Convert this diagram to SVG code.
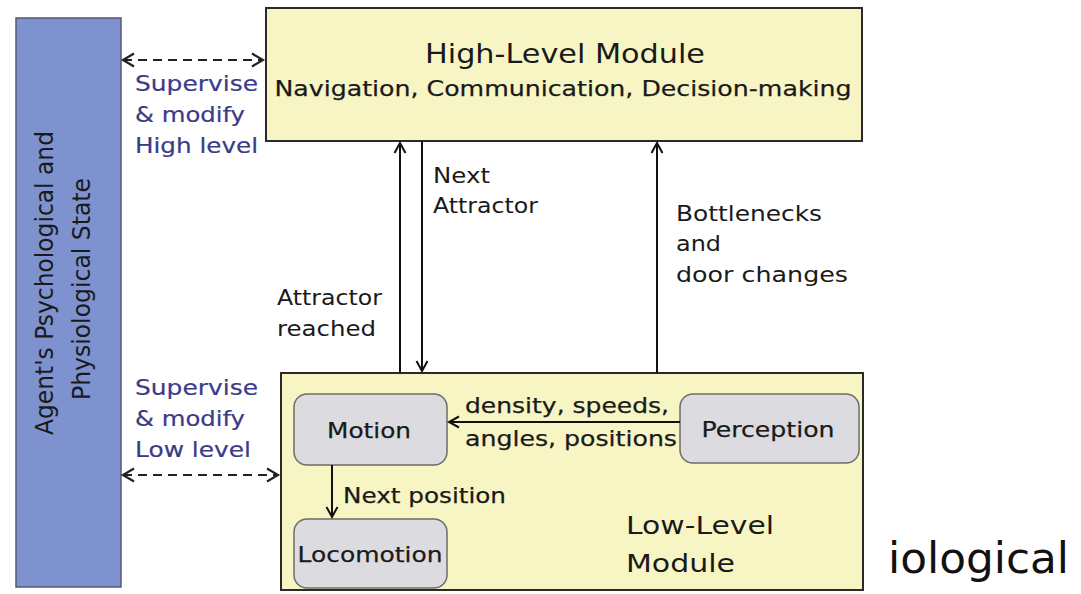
<svg xmlns="http://www.w3.org/2000/svg" width="1081" height="594" viewBox="0 0 1081 594">
<style>
.t{font-family:"DejaVu Sans","Liberation Sans",sans-serif;fill:#1a1a1a}
.k{stroke:#1a1a1a;stroke-width:0.25}
.b{font-family:"DejaVu Sans","Liberation Sans",sans-serif;fill:#3b3b88;stroke:#3b3b88;stroke-width:0.2}
.mod{fill:#f8f5c4;stroke:#2a2a2a;stroke-width:2}
.sub{fill:#dcdce0;stroke:#6e6e66;stroke-width:1.5}
.ln{stroke:#111;stroke-width:2;fill:none}
.dash{stroke:#222;stroke-width:2.2;fill:none;stroke-dasharray:9,6}
</style>
<defs>
<marker id="ah" markerUnits="userSpaceOnUse" markerWidth="14" markerHeight="14" refX="12" refY="7" orient="auto-start-reverse">
<path d="M2,1.5 L12,7 L2,12.5" fill="none" stroke="#111" stroke-width="2"/>
</marker>
<marker id="ad" markerUnits="userSpaceOnUse" markerWidth="16" markerHeight="16" refX="13" refY="8" orient="auto-start-reverse">
<path d="M2,1.5 L13,8 L2,14.5" fill="none" stroke="#222" stroke-width="2.2"/>
</marker>
</defs>

<g id="state">
<rect x="16" y="18" width="105" height="569" fill="#7d92ce" stroke="#555a70" stroke-width="1.5"/>
<text class="t" font-size="24" text-anchor="middle" transform="translate(53,283) rotate(-90)" textLength="304" lengthAdjust="spacingAndGlyphs">Agent's Psychological and</text>
<text class="t" font-size="24" text-anchor="middle" transform="translate(90,289) rotate(-90)" textLength="222" lengthAdjust="spacingAndGlyphs">Physiological State</text>
</g>

<g id="high">
<rect class="mod" x="266" y="8" width="596" height="133"/>
<text class="t" x="565" y="63" font-size="27" text-anchor="middle" textLength="280" lengthAdjust="spacingAndGlyphs">High-Level Module</text>
<text class="t k" x="563" y="96" font-size="22" text-anchor="middle" textLength="577" lengthAdjust="spacingAndGlyphs">Navigation, Communication, Decision-making</text>
</g>

<g id="low">
<rect class="mod" x="281" y="373" width="582" height="217"/>
<text class="t" x="626" y="534" font-size="25" textLength="148" lengthAdjust="spacingAndGlyphs">Low-Level</text>
<text class="t" x="626" y="572" font-size="25" textLength="109" lengthAdjust="spacingAndGlyphs">Module</text>
</g>

<g id="motion">
<rect class="sub" x="294" y="394" width="153" height="71" rx="13"/>
<text class="t k" x="369" y="438" font-size="21" text-anchor="middle" textLength="84" lengthAdjust="spacingAndGlyphs">Motion</text>
</g>

<g id="locomotion">
<rect class="sub" x="294" y="519" width="153" height="69" rx="13"/>
<text class="t k" x="370" y="562" font-size="21" text-anchor="middle" textLength="145" lengthAdjust="spacingAndGlyphs">Locomotion</text>
</g>

<g id="perception">
<rect class="sub" x="680" y="394" width="179" height="69" rx="13"/>
<text class="t k" x="768" y="437" font-size="21" text-anchor="middle" textLength="133" lengthAdjust="spacingAndGlyphs">Perception</text>
</g>

<g id="connectors">
<line class="dash" x1="123" y1="60" x2="263" y2="60" marker-start="url(#ad)" marker-end="url(#ad)"/>
<line class="dash" x1="123" y1="475" x2="278" y2="475" marker-start="url(#ad)" marker-end="url(#ad)"/>
<line class="ln" x1="400" y1="373" x2="400" y2="143" marker-end="url(#ah)"/>
<line class="ln" x1="422" y1="141" x2="422" y2="371" marker-end="url(#ah)"/>
<line class="ln" x1="657" y1="373" x2="657" y2="143" marker-end="url(#ah)"/>
<line class="ln" x1="680" y1="422" x2="449" y2="422" marker-end="url(#ah)"/>
<line class="ln" x1="332" y1="465" x2="332" y2="517" marker-end="url(#ah)"/>

<text class="b" x="135" y="91" font-size="21" textLength="123" lengthAdjust="spacingAndGlyphs">Supervise</text>
<text class="b" x="135" y="122" font-size="21" textLength="110" lengthAdjust="spacingAndGlyphs">&amp; modify</text>
<text class="b" x="135" y="153" font-size="21" textLength="123" lengthAdjust="spacingAndGlyphs">High level</text>

<text class="b" x="135" y="395" font-size="21" textLength="123" lengthAdjust="spacingAndGlyphs">Supervise</text>
<text class="b" x="135" y="426" font-size="21" textLength="110" lengthAdjust="spacingAndGlyphs">&amp; modify</text>
<text class="b" x="135" y="457" font-size="21" textLength="116" lengthAdjust="spacingAndGlyphs">Low level</text>

<text class="t" x="433" y="183" font-size="21" textLength="57" lengthAdjust="spacingAndGlyphs">Next</text>
<text class="t" x="433" y="213" font-size="21" textLength="105" lengthAdjust="spacingAndGlyphs">Attractor</text>

<text class="t" x="277" y="305" font-size="21" textLength="105" lengthAdjust="spacingAndGlyphs">Attractor</text>
<text class="t" x="277" y="336" font-size="21" textLength="99" lengthAdjust="spacingAndGlyphs">reached</text>

<text class="t" x="676" y="221" font-size="21" textLength="146" lengthAdjust="spacingAndGlyphs">Bottlenecks</text>
<text class="t" x="676" y="251" font-size="21" textLength="45" lengthAdjust="spacingAndGlyphs">and</text>
<text class="t" x="676" y="282" font-size="21" textLength="172" lengthAdjust="spacingAndGlyphs">door changes</text>

<text class="t k" x="465" y="413" font-size="21" textLength="204" lengthAdjust="spacingAndGlyphs">density, speeds,</text>
<text class="t k" x="465" y="446" font-size="21" textLength="212" lengthAdjust="spacingAndGlyphs">angles, positions</text>

<text class="t k" x="343" y="503" font-size="21" textLength="163" lengthAdjust="spacingAndGlyphs">Next position</text>
</g>

<text x="888" y="573" font-family="DejaVu Sans, sans-serif" font-size="43" fill="#111" textLength="181" lengthAdjust="spacingAndGlyphs">iological</text>
</svg>
